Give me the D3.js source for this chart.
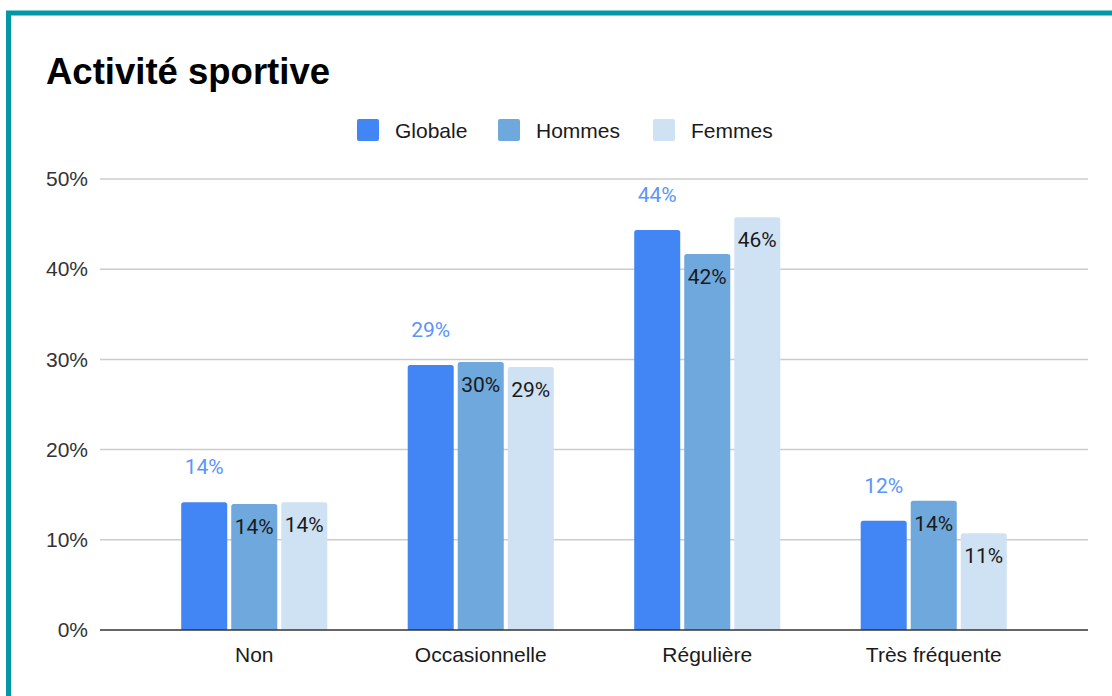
<!DOCTYPE html>
<html><head><meta charset="utf-8">
<script src="https://cdn.jsdelivr.net/npm/d3@7"></script>
<style>
html,body{margin:0;padding:0;background:#fff;}
svg{display:block;}
</style></head>
<body>
<script>
const title = "Activité sportive";
const categories = ["Non", "Occasionnelle", "Régulière", "Très fréquente"];
const series = ["Globale", "Hommes", "Femmes"];
const globale = [14.16, 29.38, 44.35, 12.12];
const hommes = [13.97, 29.71, 41.69, 14.34];
const femmes = [14.16, 29.16, 45.75, 10.72];
const yTicks = [0, 10, 20, 30, 40, 50];
const colors = ["#4285f4", "#6fa8dc", "#cfe2f3"];

const W = 1112, H = 696;
const svg = d3.select("body").append("svg").attr("width", W).attr("height", H);

// border
svg.append("rect").attr("x", 8.5).attr("y", 13).attr("width", W + 20).attr("height", H + 20)
  .attr("fill", "none").attr("stroke", "#0097a7").attr("stroke-width", 5);

svg.append("text").attr("x", 46).attr("y", 84)
  .attr("font-family", "Liberation Sans, Arial, sans-serif").attr("font-weight", "bold")
  .attr("font-size", 36.5).attr("fill", "#000").text(title);

const values = [globale, hommes, femmes];
const data = categories.map((c, i) => ({cat: c, vals: series.map((s, j) => ({s, j, v: values[j][i]}))}));

const y = d3.scaleLinear().domain([0, 50]).range([630, 179]);
const x0 = d3.scaleBand().domain(categories).range([141, 1047]).paddingInner(0.355).paddingOuter(0.1775);
const x1 = d3.scaleBand().domain(series).range([0, x0.bandwidth()]).paddingInner(0.08).paddingOuter(0);

// gridlines
const gx0 = 100, gx1 = 1088;
svg.append("g").selectAll("line").data(yTicks.filter(t => t > 0)).join("line")
  .attr("x1", gx0).attr("x2", gx1).attr("y1", d => y(d)).attr("y2", d => y(d))
  .attr("stroke", "#cccccc").attr("stroke-width", 1.5);

// y axis labels
const yAxis = svg.append("g").attr("transform", "translate(88,0)")
  .call(d3.axisLeft(y).tickValues(yTicks).tickSize(0).tickPadding(0).tickFormat(d => d + "%"));
yAxis.select(".domain").remove();
yAxis.selectAll("text").attr("font-family", "Liberation Sans, Arial, sans-serif")
  .attr("font-size", 21).attr("fill", "#333");

// bars
const g = svg.append("g");
const groups = g.selectAll("g").data(data).join("g").attr("transform", d => `translate(${x0(d.cat)},0)`);
groups.selectAll("path").data(d => d.vals).join("path")
  .attr("fill", d => colors[d.j])
  .attr("d", d => {
    const xa = x1(d.s), w = x1.bandwidth(), yt = y(d.v), yb = y(0), r = 2.5;
    return `M${xa},${yb}V${yt + r}Q${xa},${yt} ${xa + r},${yt}H${xa + w - r}Q${xa + w},${yt} ${xa + w},${yt + r}V${yb}Z`;
  });

const fmt = d3.format(".0%");
groups.selectAll("text").data(d => d.vals).join("text")
  .attr("x", d => x1(d.s) + x1.bandwidth() / 2)
  .attr("y", d => d.j === 0 ? y(d.v) - 28 : y(d.v) + 30)
  .attr("text-anchor", "middle")
  .attr("font-family", "Roboto, sans-serif").attr("font-size", 21)
  .attr("fill", d => d.j === 0 ? "#5b95f9" : "#1a1a1a")
  .text(d => fmt(d.v / 100));

// baseline
svg.append("line").attr("x1", gx0).attr("x2", gx1).attr("y1", y(0)).attr("y2", y(0))
  .attr("stroke", "#333").attr("stroke-width", 1.5);

// x axis labels
const xAxis = svg.append("g").attr("transform", `translate(0,${y(0)})`)
  .call(d3.axisBottom(x0).tickSize(0).tickPadding(0));
xAxis.select(".domain").remove();
xAxis.selectAll("text").attr("dy", null).attr("y", 32)
  .attr("font-family", "Liberation Sans, Arial, sans-serif").attr("font-size", 21).attr("fill", "#1a1a1a");

// legend
const legendX = [357, 498, 653];
const lg = svg.append("g");
series.forEach((s, i) => {
  lg.append("rect").attr("x", legendX[i]).attr("y", 119).attr("width", 22).attr("height", 22)
    .attr("rx", 2).attr("fill", colors[i]);
  lg.append("text").attr("x", legendX[i] + 38).attr("y", 137.5)
    .attr("font-family", "Liberation Sans, Arial, sans-serif").attr("font-size", 21).attr("fill", "#1a1a1a").text(s);
});
</script>
</body></html>
